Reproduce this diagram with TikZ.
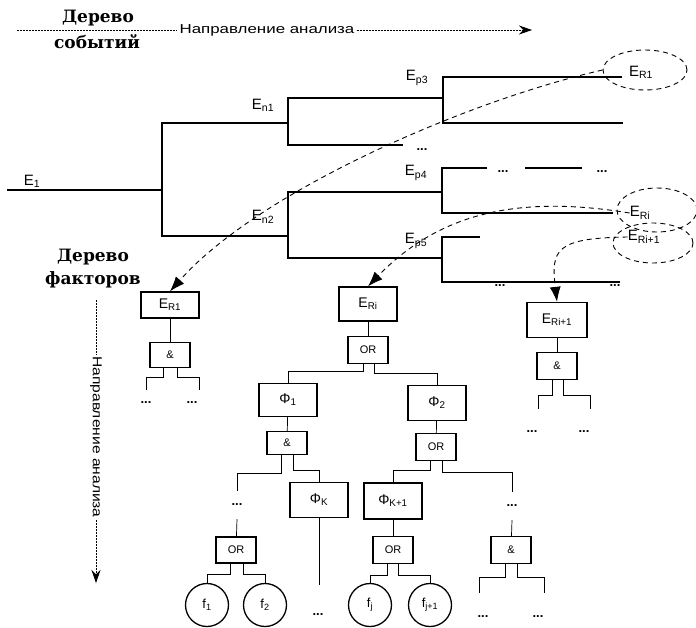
\documentclass[tikz,border=0pt]{standalone}
\usepackage{fontspec}
\setmainfont{Liberation Sans}
\newfontfamily\titlefont{DejaVu Serif}
\usetikzlibrary{arrows.meta, calc, shapes.geometric}

\begin{document}
\begin{tikzpicture}[x=1pt, y=-1pt]
    \tikzset{
        tree/.style={line width=1.2pt},
        link/.style={line width=0.7pt},
        ebox/.style={draw, line width=1.3pt, minimum width=58pt, minimum height=34pt,
            inner sep=1pt, font=\fontsize{14}{15}\selectfont},
        gate/.style={draw, line width=1.3pt, minimum width=40pt, minimum height=26pt,
            inner sep=1pt, font=\fontsize{11}{12}\selectfont},
        fact/.style={draw, circle, line width=1.3pt, minimum size=43pt, inner sep=0pt,
            font=\fontsize{13}{14}\selectfont},
        lbl/.style={inner sep=0pt, font=\fontsize{15}{16}\selectfont},
        dots/.style={inner sep=1pt, font=\bfseries\fontsize{13}{13}\selectfont},
        ring/.style={draw, ellipse, dash pattern=on 5pt off 4pt, line width=0.9pt},
        jump/.style={dash pattern=on 5pt off 4pt, line width=0.9pt,
            -{Latex[length=15pt,width=11pt]}},
        title/.style={inner sep=0pt, font=\titlefont\bfseries\fontsize{17}{18}\selectfont},
        dir/.style={inner sep=2pt, font=\fontsize{13}{14}\selectfont},
        dirline/.style={dash pattern=on 2pt off 1pt, line width=0.8pt}
    }

    \fill[white] (0,0) rectangle (696,627);
    \useasboundingbox (0,0) rectangle (696,627);

    % titles and directions
    \node[title] (evtA) at (98,18) {Дерево};
    \node[title] (evtB) at (97,42) {событий};
    \node[dir] (dirH) at (267,30) {\scalebox{1.3}[1]{Направление анализа}};
    \coordinate (hStart) at (17,30);
    \coordinate (hEnd) at (532,30);
    \draw[dirline] (hStart) -- (dirH.west);
    \draw[dirline, -{Stealth[length=13pt,width=9pt]}] (dirH.east) -- (hEnd);

    \node[title] (facA) at (93,257) {Дерево};
    \node[title] (facB) at (93,280) {факторов};
    \node[dir, rotate=-90] (dirV) at (96,437) {\scalebox{1.2}[1]{Направление анализа}};
    \coordinate (vStart) at (96,300);
    \coordinate (vEnd) at (96,583);
    \draw[dirline] (vStart) -- (dirV.west);
    \draw[dirline, -{Stealth[length=13pt,width=9pt]}] (dirV.east) -- (vEnd);

    % event tree
    \draw[tree] (7,190) -- (162,190);
    \foreach \x/\a/\b/\p/\q in {162/123/236/288/288, 288/98/145/443/403,
        288/192/258/442/442, 443/77/123/622/623, 442/168/213/487/613, 442/237/282/480/620}
        \draw[tree] (\p,\a) -- (\x,\a) -- (\x,\b) -- (\q,\b);
    \draw[tree] (525,168) -- (582,168) (520,282) -- (595,282);

    \node[lbl] (e1) at (32,181) {E\textsubscript{1}};
    \node[lbl] (en1) at (263,105) {E\textsubscript{n1}};
    \node[lbl] (en2) at (263,217) {E\textsubscript{n2}};
    \node[lbl] (ep3) at (417,78) {E\textsubscript{p3}};
    \node[lbl] (ep4) at (416,173) {E\textsubscript{p4}};
    \node[lbl] (ep5) at (416,241) {E\textsubscript{p5}};

    \node[dots] (t1) at (422,150) {...};
    \node[dots] (t2) at (503,172) {...};
    \node[dots] (t3) at (602,172) {...};
    \node[dots] (t4) at (500,286) {...};
    \node[dots] (t5) at (615,286) {...};

    \node[lbl] (lR1) at (641,72) {E\textsubscript{R1}};
    \node[ring, minimum width=84pt, minimum height=40pt] (cR1) at (645,70) {};
    \node[lbl] (lRi) at (640,213) {E\textsubscript{Ri}};
    \node[ring, minimum width=80pt, minimum height=44pt] (cRi) at (657,210) {};
    \node[lbl] (lRj) at (644,237) {E\textsubscript{Ri+1}};
    \node[ring, minimum width=80pt, minimum height=40pt] (cRj) at (653,243) {};

    % factor trees
    \node[ebox, minimum height=26pt] (bR1) at (170,305) {E\textsubscript{R1}};
    \node[gate, minimum height=25pt] (g1) at (170,355) {\&};
    \node[dots] (d1a) at (146,403) {...};
    \node[dots] (d1b) at (192,403) {...};
    \draw[link] (bR1) -- (g1);
    \draw[link] ([xshift=-7pt]g1.south) -- ++(0,9) -| ([yshift=11pt]d1a.north);
    \draw[link] ([xshift=7pt]g1.south) -- ++(0,9) -| ([xshift=7pt,yshift=11pt]d1b.north);

    \node[ebox] (bRi) at (368,304) {E\textsubscript{Ri}};
    \node[gate, minimum height=27pt] (g2) at (368,350) {OR};
    \node[ebox, minimum height=33pt] (phi1) at (288,400) {Φ\textsubscript{1}};
    \node[ebox, minimum height=35pt] (phi2) at (437,403) {Φ\textsubscript{2}};
    \draw[link] (bRi) -- (g2);
    \draw[link] ([xshift=-5pt]g2.south) -- ++(0,7) -| (phi1.north);
    \draw[link] ([xshift=6pt]g2.south) -- ++(0,9) -| (phi2.north);

    \node[gate, minimum height=23pt] (g3) at (287,443) {\&};
    \node[dots] (d3) at (237,505) {...};
    \node[ebox, minimum height=35pt] (phiK) at (319,500) {Φ\textsubscript{K}};
    \coordinate (kEnd) at (319,585);
    \node[dots] (dK) at (318,615) {...};
    \draw[link] (phi1) -- (g3);
    \draw[link] ([xshift=-6pt]g3.south) -- ++(0,18) -| ([yshift=12pt]d3.north);
    \draw[link] ([xshift=6pt]g3.south) -- ++(0,15) -| (phiK.north);
    \draw[link] (phiK) -- (kEnd);

    \node[gate] (g4) at (236,550) {OR};
    \node[fact] (f1) at (207,605) {f\textsubscript{1}};
    \node[fact] (f2) at (265,605) {f\textsubscript{2}};
    \draw[link] ([yshift=-12pt]d3.south) -- (g4);
    \draw[link] ([xshift=-6pt]g4.south) -- ++(0,11) -| (f1.north);
    \draw[link] ([xshift=7pt]g4.south) -- ++(0,11) -| (f2.north);

    \node[gate, minimum height=27pt] (g5) at (436,447) {OR};
    \node[ebox, minimum height=36pt] (phiK1) at (393,501) {Φ\textsubscript{K+1}};
    \node[dots] (d5) at (512,506) {...};
    \draw[link] (phi2) -- (g5);
    \draw[link] ([xshift=-6pt]g5.south) -- ++(0,9) -| (phiK1.north);
    \draw[link] ([xshift=6pt]g5.south) -- ++(0,11) -| ([yshift=12pt]d5.north);

    \node[gate, minimum height=27pt] (g6) at (393,550) {OR};
    \node[fact] (fj) at (370,605) {f\textsubscript{j}};
    \node[fact] (fj1) at (430,605) {f\textsubscript{j+1}};
    \draw[link] (phiK1) -- (g6);
    \draw[link] ([xshift=-6pt]g6.south) -- ++(0,11) -| (fj.north);
    \draw[link] ([xshift=5pt]g6.south) -- ++(0,11) -| (fj1.north);

    \node[gate, minimum height=27pt] (g7) at (511,550) {\&};
    \node[dots] (d7a) at (483,617) {...};
    \node[dots] (d7b) at (538,617) {...};
    \draw[link] ([yshift=-12pt]d5.south) -- (g7);
    \draw[link] ([xshift=-6pt]g7.south) -- ++(0,13) -| ([xshift=-4pt,yshift=22pt]d7a.north);
    \draw[link] ([xshift=6pt]g7.south) -- ++(0,13) -| ([xshift=6pt,yshift=22pt]d7b.north);

    \node[ebox, minimum width=60pt, minimum height=35pt] (bRj) at (557,320) {E\textsubscript{Ri+1}};
    \node[gate, minimum height=27pt] (g8) at (557,366) {\&};
    \node[dots] (d8a) at (532,432) {...};
    \node[dots] (d8b) at (584,432) {...};
    \draw[link] (bRj) -- (g8);
    \draw[link] ([xshift=-5pt]g8.south) -- ++(0,15) -| ([xshift=6pt,yshift=21pt]d8a.north);
    \draw[link] ([xshift=6pt]g8.south) -- ++(0,15) -| ([xshift=6pt,yshift=21pt]d8b.north);

    % jumps from event tree to factor trees
    \draw[jump] (cR1.west) .. controls (470,100) and (260,190) .. (bR1.north);
    \draw[jump] (lRi.west) .. controls (520,195) and (440,212) .. (bRi.north);
    \draw[jump] (lRj.west) .. controls (555,238) and (551,250) .. (bRj.north);

\end{tikzpicture}
\end{document}
